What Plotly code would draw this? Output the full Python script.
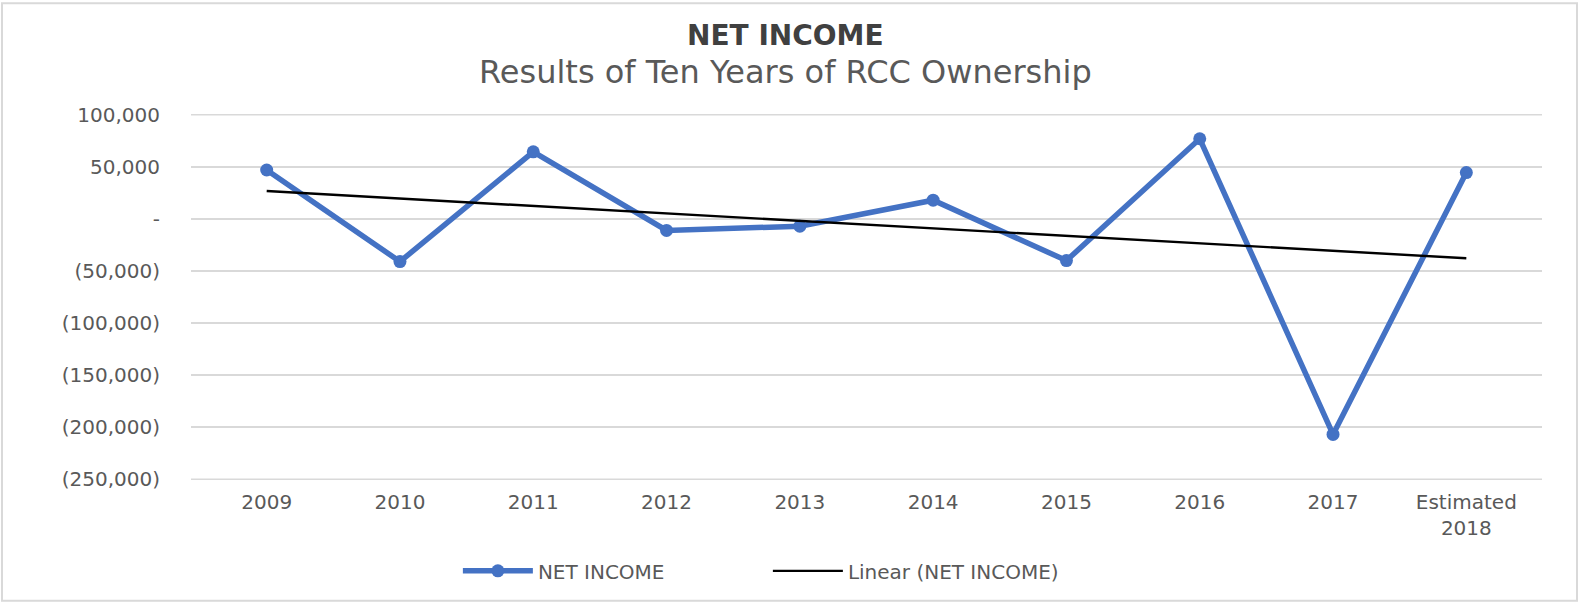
import numpy as np
import plotly.graph_objects as go

categories = ["2009", "2010", "2011", "2012", "2013", "2014", "2015", "2016", "2017", "Estimated<br>2018"]
net_income = [47000, -41000, 64500, -11000, -7000, 18000, -40000, 77000, -207000, 44500]
y_tickvals = [100000, 50000, 0, -50000, -100000, -150000, -200000, -250000]
y_ticktext = ["100,000", "50,000", "-", "(50,000)", "(100,000)", "(150,000)", "(200,000)", "(250,000)"]

idx = np.arange(len(net_income))
slope, intercept = np.polyfit(idx, net_income, 1)
trend = slope * idx + intercept

FONT = "DejaVu Sans"
GRAY = "#595959"
GRID = "#d9d9d9"

fig = go.Figure()
fig.add_trace(go.Scatter(
    x=categories, y=net_income, mode="lines+markers", name="NET INCOME",
    line=dict(color="#4472C4", width=5.5),
    marker=dict(color="#4472C4", size=13),
))
fig.add_trace(go.Scatter(
    x=categories, y=trend, mode="lines", name="Linear (NET INCOME)",
    line=dict(color="black", width=2.4),
))

edge_lines = [
    dict(type="line", xref="paper", yref="y", x0=0, x1=1, y0=v, y1=v,
         line=dict(color=GRID, width=1.5), layer="below")
    for v in (y_tickvals[0], y_tickvals[-1])
]

fig.update_layout(
    width=1580, height=602,
    margin=dict(l=191, r=38, t=114, b=118),
    paper_bgcolor="white", plot_bgcolor="white",
    font=dict(family=FONT, color=GRAY),
    showlegend=True,
    legend=dict(
        orientation="h", x=0.427, xanchor="center", y=-0.195, yanchor="top",
        font=dict(family=FONT, size=20, color=GRAY),
        itemwidth=70, entrywidth=225, entrywidthmode="pixels",
    ),
    xaxis=dict(
        type="category", showgrid=False, zeroline=False, showline=False,
        tickfont=dict(family=FONT, size=20, color=GRAY), ticks="",
        ticklabelstandoff=8,
    ),
    yaxis=dict(
        range=[-250800, 100800], tickvals=y_tickvals, ticktext=y_ticktext,
        showgrid=True, gridcolor=GRID, gridwidth=1.5,
        zeroline=False, showline=False,
        tickfont=dict(family=FONT, size=20, color=GRAY), ticks="",
        ticklabelstandoff=30,
    ),
    annotations=[
        dict(text="<b>NET INCOME</b>", xref="paper", yref="paper", x=0.44, y=(484 - 35) / 370,
             xanchor="center", yanchor="middle", showarrow=False,
             font=dict(family=FONT, size=28, color="#404040")),
        dict(text="Results of Ten Years of RCC Ownership", xref="paper", yref="paper",
             x=0.44, y=(484 - 72) / 370, xanchor="center", yanchor="middle", showarrow=False,
             font=dict(family=FONT, size=32, color=GRAY)),
    ],
    shapes=[
        dict(type="rect", xref="paper", yref="paper", x0=(2 - 191) / 1351, x1=(1577 - 191) / 1351,
             y0=-0.33, y1=(484 - 2) / 370,
             line=dict(color=GRID, width=2), fillcolor="rgba(0,0,0,0)", layer="below"),
    ] + edge_lines,
)

fig.write_html("out.html")
